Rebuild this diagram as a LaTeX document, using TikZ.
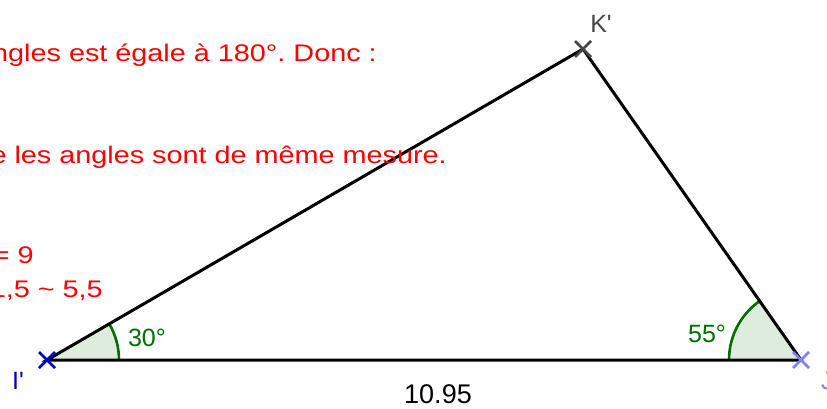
\documentclass[tikz,border=0pt]{standalone}
\usepackage{fontspec}
\setmainfont{Liberation Sans}
\usetikzlibrary{positioning}

\definecolor{remarkred}{RGB}{255,0,0}
\definecolor{anglegreen}{RGB}{0,110,0}
\definecolor{anglefill}{RGB}{222,236,222}
\definecolor{pointblue}{RGB}{0,0,205}
\definecolor{pointlight}{RGB}{128,128,240}
\definecolor{pointgray}{RGB}{70,70,70}

\tikzset{
    side/.style={line width=3pt, black},
    anglearc/.style={line width=2.6pt, anglegreen},
    remark/.style={text=remarkred, font=\fontsize{24}{28}\selectfont, xscale=1.2, anchor=base east, inner sep=0pt},
    vlabel/.style={font=\fontsize{25}{29}\selectfont, inner sep=0pt}
}

\begin{document}
\frenchspacing
\begin{tikzpicture}[x=1pt, y=1pt]
            \useasboundingbox (0,0) rectangle (827,408);
            \clip (0,0) rectangle (827,408);

            % Vertices
            \coordinate (I) at (47,48);
            \coordinate (J) at (801,48);
            \coordinate (K) at (583,359);

            % Angle marks
            \fill[anglefill] (I) -- ++(0:72pt) arc[start angle=0, end angle=30.1, radius=72pt] -- cycle;
            \fill[anglefill] (J) -- ++(125:72pt) arc[start angle=125, end angle=180, radius=72pt] -- cycle;
            \draw[anglearc] (I) ++(0:72pt) arc[start angle=0, end angle=30.1, radius=72pt];
            \draw[anglearc] (J) ++(125:72pt) arc[start angle=125, end angle=180, radius=72pt];

            % Draw Triangle
            \draw[side] (I) -- (J) -- (K) -- cycle;

            % Point crosses
            \foreach \p/\c in {I/pointblue, J/pointlight, K/pointgray}
                \draw[\c, line width=2.8pt] (\p) ++(-8,-8) -- ++(16,16) (\p) ++(-8,8) -- ++(16,-16);

            % Labels
            \node[vlabel, text=pointblue] (lI) at (18,27) {I\textquotesingle};
            \node[vlabel, text=pointlight, anchor=west] (lJ) at (821,27) {J\textquotesingle};
            \node[vlabel, text=pointgray] (lK) at (601,384) {K\textquotesingle};
            \node[vlabel, text=anglegreen] (a30) at (147,70) {30°};
            \node[vlabel, text=anglegreen] (a55) at (707,74) {55°};
            \node[vlabel, font=\fontsize{27}{31}\selectfont] (len) at (438,14) {10.95};

            % Remarks (cut at the left)
            \node[remark] (r1) at (377,346) {ngles est égale à 180°. Donc :};
            \node[remark] (r2) at (447,245) {e les angles sont de même mesure.};
            \node[remark] (r3) at (34,145) {= 9};
            \node[remark] (r4) at (103,111) {1,5 \textasciitilde{} 5,5};

        \end{tikzpicture}
\end{document}
